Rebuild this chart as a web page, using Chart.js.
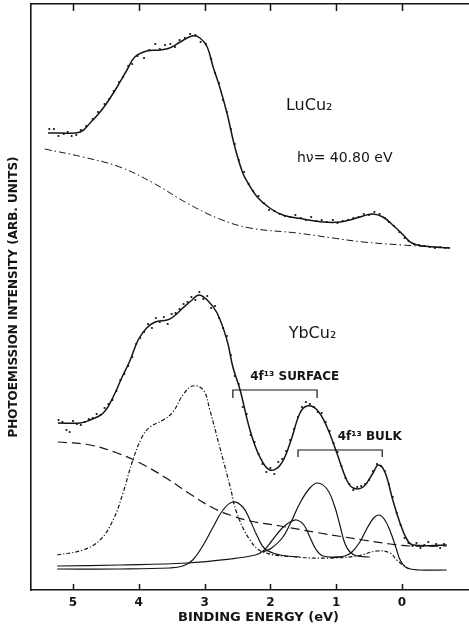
<!DOCTYPE html>
<html>
<head>
<meta charset="utf-8">
<script src="https://cdn.jsdelivr.net/npm/chart.js@4.4.1/dist/chart.umd.min.js"></script>
<style>
  html, body { margin: 0; padding: 0; background: #fff; overflow: hidden; }
  #wrap { width: 490px; height: 628px; }
</style>
</head>
<body>
<div id="wrap"><canvas id="c"></canvas></div>
<script>
// ---------- data (binding energy in eV, intensity in arbitrary units) ----------
const energyTicks = [5, 4, 3, 2, 1, 0];

// LuCu2 fitted curve
const luFitE = [5.38, 5.20, 4.89, 4.74, 4.54, 4.33, 4.18, 4.06, 3.88, 3.68, 3.53, 3.37, 3.19, 3.07, 2.96, 2.87, 2.77, 2.66, 2.54, 2.42, 2.34, 2.20, 2.01, 1.81, 1.50, 1.20, 0.94, 0.74, 0.59, 0.44, 0.29, 0.14, -0.02, -0.15, -0.32, -0.73];
const luFitI = [457, 457, 458, 467, 482, 503, 520, 533, 539, 540, 542, 548, 554, 552, 543, 523, 503, 477, 443, 417, 407, 393, 382, 375, 371, 368, 368, 371, 374, 376, 373, 365, 355, 347, 344, 342];

// LuCu2 background (dash-dot)
const luBgE = [5.43, 4.85, 4.29, 3.78, 3.27, 2.77, 2.31, 1.60, 1.05, 0.59, 0.00, -0.23, -0.73];
const luBgI = [441, 433, 423, 407, 387, 371, 362, 357, 352, 348, 345, 344, 342];

// LuCu2 measured points
const luPtE = [5.36, 5.29, 5.22, 5.14, 5.08, 5.02, 4.95, 4.88, 4.80, 4.70, 4.62, 4.52, 4.45, 4.38, 4.30, 4.24, 4.16, 4.10, 4.02, 3.92, 3.84, 3.75, 3.68, 3.60, 3.52, 3.45, 3.38, 3.30, 3.22, 3.14, 3.06, 2.98, 2.90, 2.84, 2.78, 2.72, 2.66, 2.60, 2.54, 2.48, 2.40, 2.33, 2.26, 2.18, 2.10, 2.02, 1.94, 1.86, 1.78, 1.70, 1.62, 1.54, 1.46, 1.38, 1.30, 1.22, 1.14, 1.05, 0.98, 0.90, 0.82, 0.74, 0.66, 0.58, 0.50, 0.42, 0.34, 0.26, 0.20, 0.12, 0.04, -0.04, -0.10, -0.18, -0.26, -0.34, -0.42, -0.50, -0.58, -0.66];
const luPtI = [461, 461, 454, 456, 458, 454, 455, 460, 464, 471, 478, 486, 491, 499, 508, 513, 524, 526, 534, 532, 540, 546, 541, 545, 546, 543, 550, 552, 556, 555, 548, 546, 531, 517, 507, 490, 478, 461, 446, 430, 418, 406, 399, 394, 387, 380, 379, 376, 374, 373, 375, 372, 370, 373, 369, 370, 368, 370, 367, 369, 370, 372, 373, 376, 375, 378, 376, 372, 368, 364, 358, 352, 349, 346, 345, 344, 343, 342, 343, 342];

// YbCu2 fitted curve
const ybFitE = [5.23, 4.89, 4.74, 4.54, 4.39, 4.26, 4.13, 4.01, 3.88, 3.75, 3.57, 3.48, 3.33, 3.19, 3.09, 2.96, 2.81, 2.66, 2.57, 2.46, 2.31, 2.16, 2.01, 1.85, 1.70, 1.55, 1.44, 1.29, 1.14, 0.99, 0.84, 0.74, 0.59, 0.44, 0.36, 0.26, 0.14, 0.03, -0.08, -0.17, -0.68];
const ybFitI = [167, 167, 170, 177, 193, 212, 230, 250, 262, 268, 270, 273, 282, 290, 295, 290, 277, 250, 223, 200, 160, 133, 120, 125, 147, 177, 184, 180, 163, 137, 110, 102, 103, 117, 125, 118, 90, 67, 50, 45, 45];

// YbCu2 measured points
const ybPtE = [5.22, 5.16, 5.10, 5.05, 5.00, 4.94, 4.88, 4.82, 4.76, 4.70, 4.64, 4.58, 4.52, 4.46, 4.40, 4.34, 4.28, 4.22, 4.16, 4.10, 4.04, 3.98, 3.92, 3.86, 3.80, 3.74, 3.68, 3.62, 3.56, 3.50, 3.44, 3.38, 3.32, 3.26, 3.20, 3.14, 3.08, 3.02, 2.96, 2.90, 2.84, 2.78, 2.72, 2.66, 2.60, 2.54, 2.48, 2.42, 2.36, 2.30, 2.24, 2.18, 2.12, 2.06, 2.00, 1.94, 1.88, 1.82, 1.76, 1.70, 1.64, 1.58, 1.52, 1.46, 1.40, 1.34, 1.28, 1.22, 1.16, 1.10, 1.04, 0.98, 0.92, 0.86, 0.80, 0.74, 0.68, 0.62, 0.56, 0.50, 0.44, 0.38, 0.32, 0.26, 0.20, 0.14, 0.08, 0.02, -0.04, -0.10, -0.16, -0.22, -0.28, -0.34, -0.40, -0.46, -0.52, -0.58, -0.64];
const ybPtI = [170, 168, 160, 158, 169, 166, 165, 168, 171, 172, 176, 175, 182, 186, 190, 199, 210, 216, 224, 233, 246, 252, 258, 266, 262, 272, 268, 273, 266, 276, 277, 281, 286, 288, 293, 290, 298, 291, 294, 282, 284, 272, 262, 254, 235, 214, 206, 183, 176, 155, 148, 136, 126, 118, 122, 116, 128, 131, 139, 150, 161, 173, 183, 188, 186, 183, 178, 177, 168, 159, 147, 138, 124, 112, 106, 100, 103, 104, 106, 110, 119, 126, 124, 119, 106, 93, 77, 65, 52, 47, 44, 47, 42, 45, 48, 44, 46, 42, 46];

// YbCu2 background (dashed)
const ybBgE = [5.23, 4.74, 4.33, 3.98, 3.56, 3.22, 2.87, 2.57, 2.31, 1.85, 1.25, 0.59, 0.18, -0.12, -0.68];
const ybBgI = [148, 145, 137, 127, 111, 96, 82, 74, 69, 64, 57, 50, 46, 44, 44];

// Cu 3d component (dash-dot)
const cuE = [5.24, 4.85, 4.59, 4.39, 4.24, 4.09, 3.95, 3.83, 3.63, 3.48, 3.33, 3.18, 3.02, 2.92, 2.77, 2.61, 2.51, 2.31, 2.11, 1.60, 1.09, 0.68, 0.38, 0.18, 0.08, -0.08, -0.15];
const cuI = [35, 40, 50, 70, 97, 130, 153, 163, 170, 178, 195, 204, 200, 180, 143, 103, 77, 50, 38, 33, 32, 34, 39, 37, 30, 22, 21];

// 4f13 surface component at 2.6 eV
const surfAE = [5.24, 4.29, 3.53, 3.33, 3.18, 3.02, 2.87, 2.72, 2.57, 2.42, 2.31, 2.20, 2.08, 1.85, 1.55];
const surfAI = [21, 21, 22, 24, 30, 45, 63, 80, 88, 83, 70, 54, 41, 35, 33];

// 4f13 bulk component at 1.6 eV
const bulkAE = [5.24, 4.29, 3.27, 2.61, 2.23, 2.11, 1.98, 1.82, 1.70, 1.60, 1.49, 1.40, 1.31, 1.20, 0.94];
const bulkAI = [24, 25, 27, 31, 35, 39, 49, 62, 68, 70, 65, 53, 41, 34, 33];

// 4f13 surface component at 1.3 eV
const surfBE = [2.11, 1.98, 1.82, 1.70, 1.55, 1.40, 1.28, 1.14, 1.03, 0.94, 0.87, 0.79, 0.68, 0.49];
const surfBI = [38, 42, 52, 66, 87, 102, 107, 101, 85, 64, 47, 38, 34, 33];

// 4f13 bulk component at 0.35 eV
const bulkBE = [1.09, 0.87, 0.76, 0.64, 0.52, 0.43, 0.35, 0.27, 0.18, 0.09, 0.02, -0.08, -0.27, -0.68];
const bulkBI = [32, 34, 38, 48, 63, 72, 75, 71, 59, 42, 29, 22, 20, 20];

// brackets marking the doublets
const surfBracketE = [2.57, 2.57, 1.29, 1.29];
const surfBracketI = [192, 200, 200, 192];
const bulkBracketE = [1.58, 1.58, 0.30, 0.30];
const bulkBracketI = [133, 140, 140, 133];

// text labels (energy, intensity)
const labels = [
  { text: 'LuCu\u2082', e: 1.41, i: 484, font: '16px "DejaVu Sans"' },
  { text: 'h\u03bd= 40.80 eV', e: 0.87, i: 432, font: '14px "DejaVu Sans"' },
  { text: 'YbCu\u2082', e: 1.36, i: 256, font: '16px "DejaVu Sans"' },
  { text: '4f\u00b9\u00b3 SURFACE', e: 1.63, i: 213, font: 'bold 12px "DejaVu Sans"' },
  { text: '4f\u00b9\u00b3 BULK', e: 0.49, i: 153, font: 'bold 12px "DejaVu Sans"' }
];

// ---------- chart ----------
const INK = '#151515';
const pts = (E, I) => E.map((e, k) => ({ x: e, y: I[k] }));

function curve(E, I, width, dash) {
  return {
    data: pts(E, I), borderColor: INK, borderWidth: width, borderDash: dash || [],
    pointRadius: 0, fill: false, tension: 0.4
  };
}
function straight(E, I) {
  return { data: pts(E, I), borderColor: INK, borderWidth: 1.2, pointRadius: 0, fill: false, tension: 0 };
}
function dots(E, I) {
  return { data: pts(E, I), showLine: false, pointRadius: 1.1, pointBackgroundColor: INK, pointBorderWidth: 0, borderColor: INK };
}

const tickPlugin = {
  id: 'inTicks',
  afterDraw(chart) {
    const { ctx, chartArea } = chart;
    const xs = chart.scales.x;
    ctx.save();
    ctx.strokeStyle = INK;
    ctx.lineWidth = 1.5;
    energyTicks.forEach(v => {
      const px = Math.round(xs.getPixelForValue(v)) + 0.5;
      ctx.beginPath();
      ctx.moveTo(px, chartArea.bottom);
      ctx.lineTo(px, chartArea.bottom - 6);
      ctx.moveTo(px, chartArea.top);
      ctx.lineTo(px, chartArea.top + 7);
      ctx.stroke();
    });
    ctx.fillStyle = INK;
    ctx.textAlign = 'center';
    ctx.textBaseline = 'middle';
    const ys = chart.scales.y;
    labels.forEach(l => {
      ctx.font = l.font;
      ctx.fillText(l.text, xs.getPixelForValue(l.e), ys.getPixelForValue(l.i));
    });
    ctx.restore();
  }
};

new Chart(document.getElementById('c'), {
  type: 'line',
  data: {
    datasets: [
      curve(luFitE, luFitI, 1.5),
      dots(luPtE, luPtI),
      curve(luBgE, luBgI, 1.0, [7, 3, 1.5, 3]),
      curve(ybFitE, ybFitI, 1.5),
      dots(ybPtE, ybPtI),
      curve(ybBgE, ybBgI, 1.2, [9, 5]),
      curve(cuE, cuI, 1.2, [4, 2, 1.2, 2]),
      curve(surfAE, surfAI, 1.2),
      curve(bulkAE, bulkAI, 1.2),
      curve(surfBE, surfBI, 1.2),
      curve(bulkBE, bulkBI, 1.2),
      straight(surfBracketE, surfBracketI),
      straight(bulkBracketE, bulkBracketI)
    ]
  },
  options: {
    responsive: true,
    maintainAspectRatio: false,
    animation: false,
    layout: { padding: { left: 0, right: 4, top: 0, bottom: 0 } },
    plugins: { legend: { display: false }, tooltip: { enabled: false } },
    scales: {
      x: {
        type: 'linear', position: 'bottom', reverse: true,
        min: -1.277, max: 5.638,
        afterBuildTicks: s => { s.ticks = energyTicks.map(v => ({ value: v })); },
        afterFit: s => { s.height = 38; },
        grid: { display: false, drawTicks: false },
        border: { display: true, color: INK, width: 1.6 },
        ticks: { color: INK, padding: 6, maxRotation: 0, font: { family: 'DejaVu Sans', size: 12, weight: 'bold' } },
        title: { display: true, text: 'BINDING ENERGY (eV)', color: INK, padding: { top: 0, bottom: 3 },
                 font: { family: 'DejaVu Sans', size: 13, weight: 'bold' } }
      },
      xTop: {
        type: 'linear', position: 'top', reverse: true,
        min: -1.277, max: 5.638,
        afterFit: s => { s.height = 4; },
        grid: { display: false, drawTicks: false },
        border: { display: true, color: INK, width: 1.6 },
        ticks: { display: false }
      },
      y: {
        type: 'linear', position: 'left', min: 0, max: 586,
        afterFit: s => { s.width = 31; },
        grid: { display: false, drawTicks: false },
        border: { display: true, color: INK, width: 1.6 },
        ticks: { display: false },
        title: { display: true, text: 'PHOTOEMISSION INTENSITY (ARB. UNITS)', color: INK, padding: { top: 7, bottom: 0 },
                 font: { family: 'DejaVu Sans', size: 12, weight: 'bold' } }
      }
    }
  },
  plugins: [tickPlugin]
});
</script>
</body>
</html>
